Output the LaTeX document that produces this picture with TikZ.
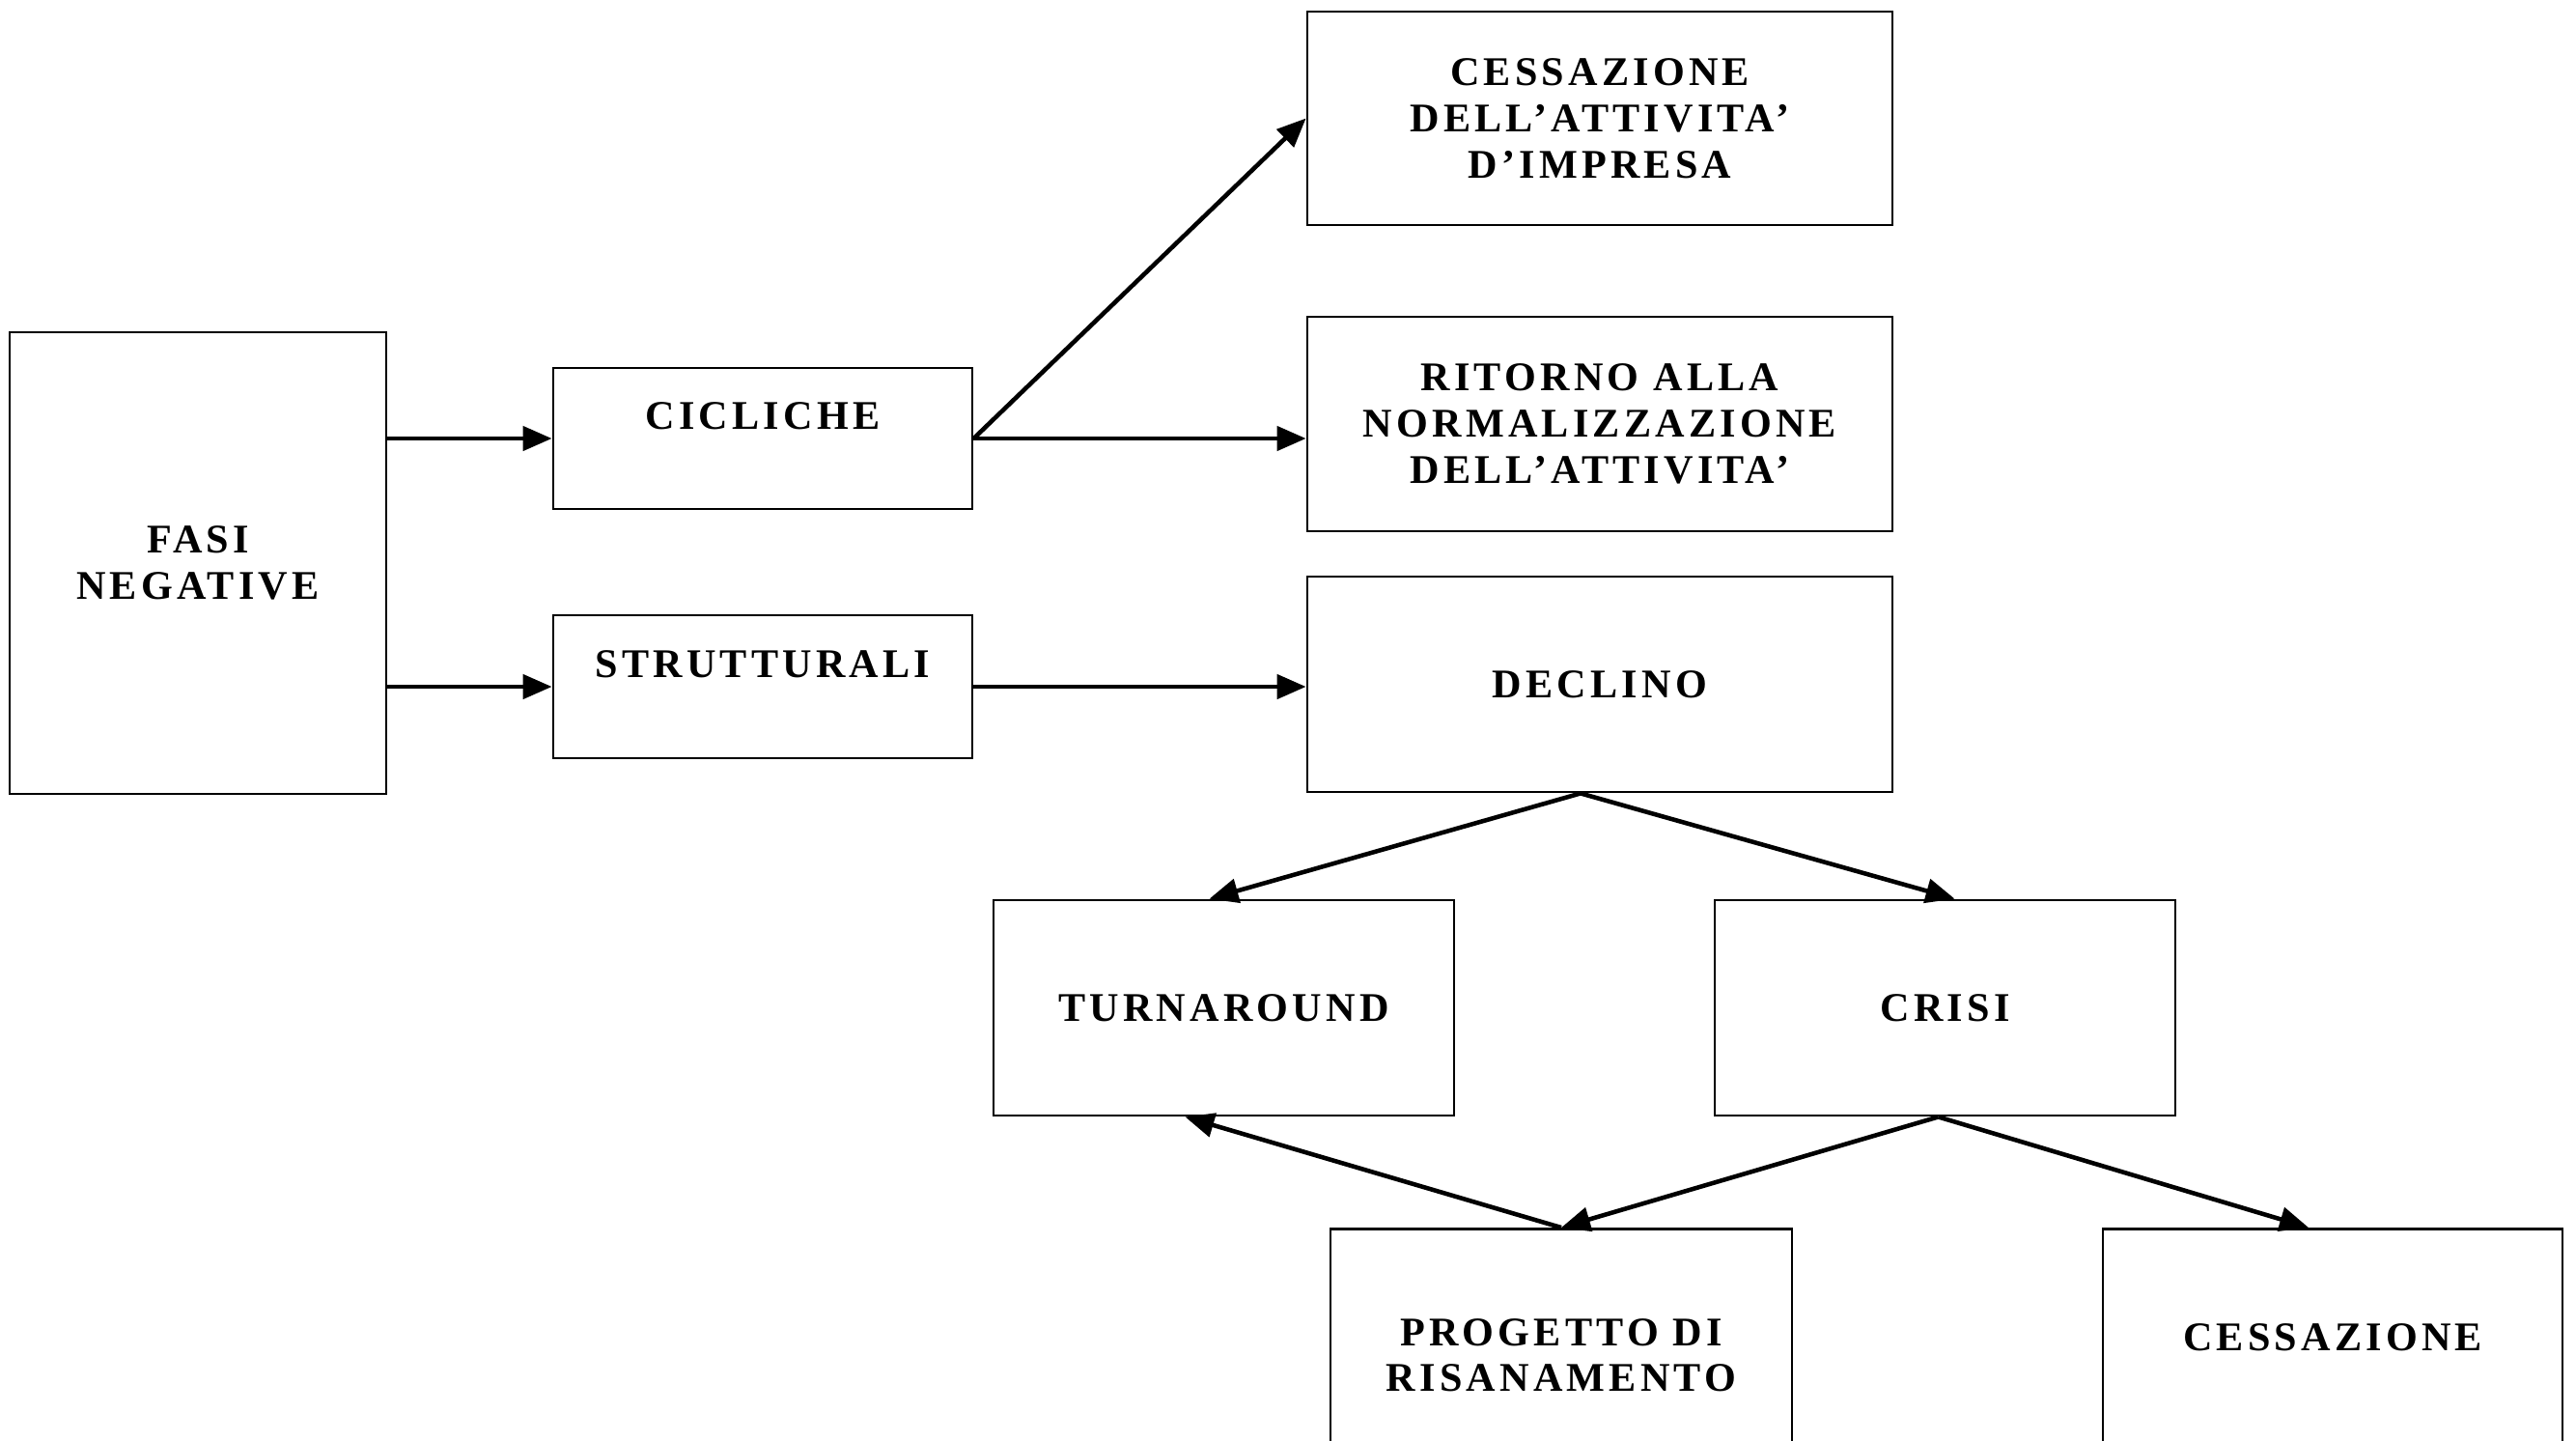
\documentclass[tikz,border=0pt]{standalone}
\usepackage{fontspec}
\setmainfont{Liberation Serif}
\newfontfamily\boxfont[LetterSpace=10]{Liberation Serif}
\usetikzlibrary{positioning, arrows.meta}

\begin{document}
\begin{tikzpicture}
\tikzstyle{every node}+=[inner sep=0pt]
\tikzstyle{box}=[draw=black, line width=0.8pt, rectangle]
\tikzstyle{lbl}=[font=\boxfont\bfseries\fontsize{12pt}{13.6pt}\selectfont, align=center]
\tikzstyle{conn}=[draw=black, line width=1.3pt, -{Triangle[length=3mm, width=2.5mm]}]
\useasboundingbox (0,0) rectangle (26.68,-14.91);
% left column
\node [box, lbl, minimum width=3.9cm, minimum height=4.78cm] (fasi) at (2.05,-5.83) {FASI\\NEGATIVE};
\node [box, minimum width=4.34cm, minimum height=1.46cm] (cicliche) at (7.9,-4.54) {};
\node [lbl, below=3.6mm of cicliche.north] (t-cicliche) {CICLICHE};
\node [box, minimum width=4.34cm, minimum height=1.48cm] (strutturali) at (7.9,-7.11) {};
\node [lbl, below=3.7mm of strutturali.north] (t-strutturali) {STRUTTURALI};
% right column
\node [box, lbl, minimum width=6.06cm, minimum height=2.21cm] (cessattivita) at (16.57,-1.225) {CESSAZIONE\\DELL’ATTIVITA’\\D’IMPRESA};
\node [box, lbl, minimum width=6.06cm, minimum height=2.22cm] (ritorno) at (16.57,-4.39) {RITORNO ALLA\\NORMALIZZAZIONE\\DELL’ATTIVITA’};
\node [box, lbl, minimum width=6.06cm, minimum height=2.23cm] (declino) at (16.57,-7.085) {DECLINO};
% lower rows
\node [box, lbl, minimum width=4.77cm, minimum height=2.23cm] (turnaround) at (12.675,-10.435) {TURNAROUND};
\node [box, lbl, minimum width=4.77cm, minimum height=2.23cm] (crisi) at (20.145,-10.435) {CRISI};
\node [box, anchor=north, minimum width=4.78cm, minimum height=2.25cm] (progetto) at (16.17,-12.71) {};
\node [lbl, below=9.35mm of progetto.north] (t-progetto) {PROGETTO DI\\RISANAMENTO};
\node [box, lbl, anchor=north, minimum width=4.76cm, minimum height=2.25cm] (cessazione) at (24.16,-12.71) {CESSAZIONE};
% connectors
\draw [conn] (fasi.east |- cicliche) -- (cicliche.west);
\draw [conn] (fasi.east |- strutturali) -- (strutturali.west);
\draw [conn] (cicliche.east) -- (cessattivita.west);
\draw [conn] (cicliche.east) -- (cicliche.east -| ritorno.west);
\draw [conn] (strutturali.east) -- (strutturali.east -| declino.west);
\draw [conn] ([xshift=-2mm]declino.south) -- ([xshift=-1.5mm]turnaround.north);
\draw [conn] ([xshift=-2mm]declino.south) -- ([xshift=1mm]crisi.north);
\draw [conn] ([xshift=-0.7mm]crisi.south) -- (progetto.north);
\draw [conn] ([xshift=-0.7mm]crisi.south) -- ([xshift=-2.5mm]cessazione.north);
\draw [conn] (progetto.north) -- ([xshift=-4mm]turnaround.south);
\end{tikzpicture}
\end{document}
